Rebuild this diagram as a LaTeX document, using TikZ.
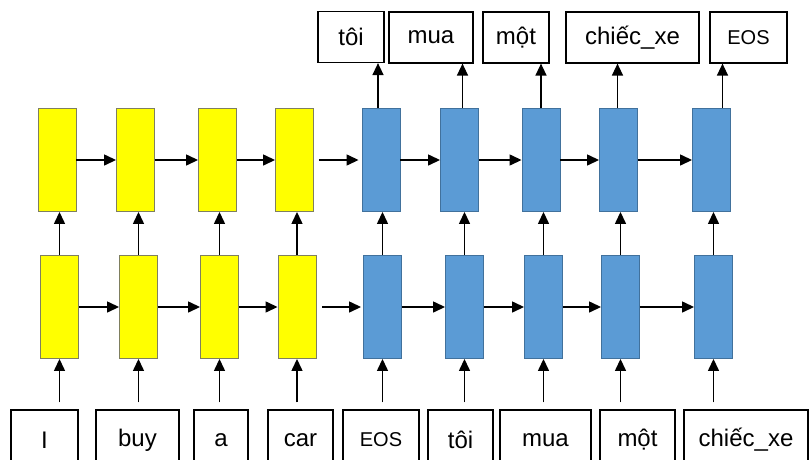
\documentclass[tikz,border=0pt]{standalone}
\usepackage{fontspec}
\setmainfont{Liberation Sans}
\usetikzlibrary{arrows.meta,calc}
\definecolor{ylw}{HTML}{FFFF00}
\definecolor{ylwline}{HTML}{7F7F5F}
\definecolor{blu}{HTML}{5B9BD5}
\definecolor{bluline}{HTML}{41719C}
\tikzset{
  encbox/.style={draw=ylwline, line width=0.9pt, fill=ylw, minimum width=38pt, minimum height=103pt, inner sep=0pt},
  decbox/.style={draw=bluline, line width=0.9pt, fill=blu, minimum width=38pt, minimum height=103pt, inner sep=0pt},
  wordbox/.style={draw=black, line width=1.2pt, fill=white, minimum height=51pt, inner sep=0pt, font=\fontsize{24}{28}\selectfont},
  inbox/.style={wordbox, minimum height=60pt},
  small/.style={font=\fontsize{20}{24}\selectfont},
  arr/.style={line width=1.4pt, -{Triangle[length=12pt,width=11pt]}}
}
\begin{document}
\begin{tikzpicture}[x=1pt,y=-1pt]
\useasboundingbox (0,0) rectangle (812,459);
\begin{scope}
\clip (0,0) rectangle (812,459);
% upper layer
\node[encbox] (ta) at (57,160) {};
\node[encbox] (tb) at (135.5,160) {};
\node[encbox] (tc) at (217.5,160) {};
\node[encbox] (td) at (294.5,160) {};
\node[decbox] (te) at (381,160) {};
\node[decbox] (tf) at (459.5,160) {};
\node[decbox] (tg) at (541,160) {};
\node[decbox] (th) at (618.5,160) {};
\node[decbox] (ti) at (711.5,160) {};
% lower layer
\node[encbox] (la) at (59.5,307) {};
\node[encbox] (lb) at (138.5,307) {};
\node[encbox] (lc) at (219.5,307) {};
\node[encbox] (ld) at (297,307) {};
\node[decbox] (le) at (382.5,307) {};
\node[decbox] (lf) at (464.5,307) {};
\node[decbox] (lg) at (543.5,307) {};
\node[decbox] (lh) at (620.5,307) {};
\node[decbox] (li) at (713.5,307) {};
% output words
\node[wordbox, minimum width=66pt] (oa) at (351,37) {tôi};
\node[wordbox, minimum width=84pt] (ob) at (431,37.5) {mua};
\node[wordbox, minimum width=66pt] (oc) at (516,37.5) {một};
\node[wordbox, minimum width=133pt] (od) at (632.5,37.5) {chiếc\_xe};
\node[wordbox, small, minimum width=77pt] (oe) at (748.5,37.5) {EOS};
% input words
\node[inbox, minimum width=67pt] (ia) at (44.5,440) {I};
\node[inbox, minimum width=83pt] (ib) at (137.5,440) {buy};
\node[inbox, minimum width=54pt] (ic) at (221,440) {a};
\node[inbox, minimum width=65pt] (id) at (300.5,440) {car};
\node[inbox, small, minimum width=76pt] (ie) at (381,440) {EOS};
\node[inbox, minimum width=65pt] (if) at (460.5,440) {tôi};
\node[inbox, minimum width=91pt] (ig) at (545.5,440) {mua};
\node[inbox, minimum width=75pt] (ih) at (637.5,440) {một};
\node[inbox, minimum width=124pt] (ii) at (746,440) {chiếc\_xe};
% horizontal arrows
\foreach \a/\b in {ta/tb,tb/tc,tc/td,tf/tg,tg/th,th/ti,te/tf,la/lb,lb/lc,lc/ld,le/lf,lf/lg,lg/lh,lh/li}
  \draw[arr] (\a.east) -- (\b.west);
\draw[arr] ([xshift=5pt]td.east) -- ([xshift=-3pt]te.west);
\draw[arr] ([xshift=6pt]ld.east) -- ([xshift=-2pt]le.west);
% between layers
\foreach \l/\t in {la/ta,lb/tb,lc/tc,ld/td,le/te,lf/tf,lg/tg,lh/th,li/ti}
  \draw[arr] (\l.north) -- (\l.north |- \t.south);
% inputs
\foreach \i/\l in {ia/la,ib/lb,ic/lc,id/ld,ie/le,if/lf,ig/lg,ih/lh,ii/li}
  \draw[arr] ($(\l.south |- \i.north)+(0,-7)$) -- (\l.south);
% outputs
\foreach \t/\o/\s in {te/oa/-3,tf/ob/3,tg/oc/0,th/od/-1,ti/oe/11}
  \draw[arr] ([xshift=\s pt]\t.north) -- ([xshift=\s pt]\t.north |- \o.south);
\end{scope}
\end{tikzpicture}
\end{document}
